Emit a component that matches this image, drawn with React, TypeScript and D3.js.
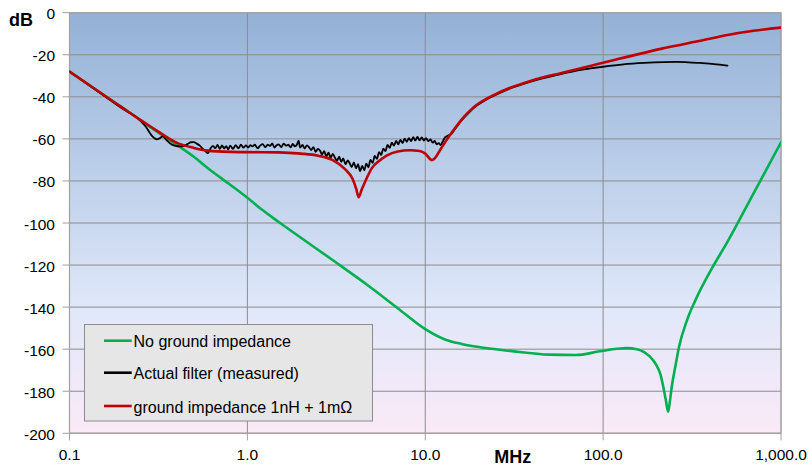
import React from "react";
import * as d3 from "d3";

// ---- data ----
const xTickValues = [0.1, 1, 10, 100, 1000];
const xTickLabels = ["0.1", "1.0", "10.0", "100.0", "1,000.0"];
const yTickValues = [0, -20, -40, -60, -80, -100, -120, -140, -160, -180, -200];

const greenFreq = [0.1, 0.15, 0.2, 0.25, 0.3, 0.4, 0.5, 0.6, 0.8, 1.0, 1.2, 1.5, 2, 3, 5, 7, 10, 13, 16, 20, 30, 50, 70, 96, 120, 136, 155, 170, 190, 200, 210, 218, 225, 232, 238, 243, 255, 267, 296, 330, 400, 500, 700, 1000];
const greenDb = [-28, -38.2, -45.4, -51, -55.8, -62.8, -68.5, -74, -81.8, -88, -93.5, -99.5, -107, -117.5, -131, -140.5, -150.5, -155.5, -157.5, -159, -160.8, -162.6, -162.8, -161, -159.8, -159.5, -160, -161.4, -165, -167.8, -172, -178, -184, -189.7, -184, -178, -168, -159, -146.3, -136.8, -123, -109, -86, -61.6];

const redFreq = [0.1, 0.15, 0.2, 0.25, 0.3, 0.35, 0.4, 0.5, 0.6, 0.8, 1.0, 1.5, 2.0, 2.5, 3.0, 3.5, 3.9, 4.1, 4.22, 4.4, 4.7, 5.0, 5.5, 6.1, 7.0, 8.2, 9.3, 10.0, 10.9, 11.5, 12.1, 13, 14, 15, 16, 17.5, 19.4, 22, 24.2, 30, 37.5, 45, 57, 100, 211, 367, 500, 700, 1000];
const redDb = [-28, -38.2, -45.4, -51, -55.3, -59, -61.8, -64.3, -65.6, -66.2, -66.3, -66.4, -67, -68, -70, -74, -79, -84, -87.7, -84, -78.5, -74, -70.5, -67.8, -66, -65.4, -65.8, -67, -70.1, -68.5, -65.4, -61.3, -57.3, -53.9, -50.8, -47.3, -43.9, -41.0, -39.2, -35.7, -32.9, -30.9, -28.9, -23.8, -17.2, -13, -10.6, -8.6, -7.1];

const measFreq = [0.1, 0.15, 0.2, 0.25, 0.27, 0.29, 0.31, 0.32, 0.335, 0.35, 0.37, 0.39, 0.42, 0.44, 0.46, 0.48,
  0.50, 0.52, 0.54, 0.56, 0.58, 0.60, 0.62, 0.64, 0.66, 0.68, 0.70, 0.72, 0.74, 0.76, 0.78, 0.80, 0.83, 0.86, 0.89, 0.92, 0.95, 0.98,
  1.01, 1.04, 1.07, 1.10, 1.14, 1.18, 1.22, 1.26, 1.30, 1.34, 1.38, 1.42, 1.46, 1.50, 1.55, 1.60, 1.65, 1.70, 1.75, 1.80, 1.85, 1.90, 1.94, 1.98,
  2.04, 2.10, 2.16, 2.22, 2.28, 2.35, 2.42, 2.49, 2.56, 2.63, 2.70, 2.78, 2.86, 2.94, 3.02, 3.10, 3.19, 3.28, 3.37, 3.46, 3.56, 3.66, 3.76, 3.86, 3.97,
  4.08, 4.19, 4.30, 4.42, 4.54, 4.66, 4.79, 4.92, 5.06, 5.20, 5.35, 5.50, 5.65, 5.81, 5.97, 6.14, 6.31, 6.49, 6.67, 6.86, 7.05, 7.25, 7.45, 7.66, 7.87,
  8.09, 8.32, 8.55, 8.79, 9.04, 9.29, 9.55, 9.82, 10.1, 10.4, 10.7, 11.0, 11.3, 11.6, 11.9, 12.2, 12.5, 12.8,
  13.3, 14, 15, 16, 17.5, 19.4, 22, 24.2, 30, 37.5, 45, 57, 70, 85, 100, 130, 170, 220, 260, 300, 350, 420, 500];
const measDb = [-28, -38.4, -45.8, -51.3, -54.5, -58.5, -60.2, -59.8, -58.8, -60.5, -62.3, -63.2, -63.6, -63.4, -62.5, -61.6,
  -61.5, -62.3, -63.2, -64.6, -65.8, -66.9, -64.6, -63.3, -64.4, -62.9, -64.8, -63.1, -64.6, -63.4, -65.0, -63.2, -64.7, -63.0, -64.5, -62.8, -64.2, -63.1,
  -64.1, -63.0, -63.6, -62.7, -64.5, -63.2, -62.5, -63.9, -62.8, -63.3, -62.2, -64.1, -63.0, -62.6, -63.9, -62.3, -63.2, -62.8, -64.0, -62.4, -63.6, -62.7, -60.8, -64.2,
  -62.9, -64.6, -63.1, -63.9, -65.3, -63.9, -66.2, -64.8, -65.6, -67.4, -65.8, -68.3, -66.5, -69.0, -67.1, -68.8, -70.4, -68.5, -70.9, -69.3, -72.1, -70.2, -71.6, -73.4, -71.2,
  -74.0, -72.0, -75.4, -72.8, -75.0, -71.8, -73.5, -70.0, -71.4, -68.1, -69.5, -66.3, -67.6, -64.6, -65.8, -62.9, -64.3, -61.8, -63.2, -61.0, -62.6, -60.5, -62.0, -59.9, -61.4,
  -59.6, -61.1, -59.2, -60.8, -59.0, -60.7, -59.3, -60.8, -59.6, -61.1, -60.2, -61.8, -61.0, -62.6, -62.0, -63.0, -61.5, -59.8,
  -58.6, -57.7, -54.3, -51.2, -47.7, -44.3, -41.4, -39.6, -36.0, -33.2, -31.3, -29.3, -27.6, -26.5, -25.7, -24.6, -23.9, -23.5, -23.4, -23.6, -23.9, -24.5, -25.2];

const seriesNames = ["No ground impedance", "Actual filter (measured)", "ground impedance 1nH + 1m\u03A9"];
const seriesColors = ["#00B050", "#000000", "#C00000"];

// ---- layout ----
const W = 812, H = 470;
const left = 69.5, right = 781, top = 12.7, bottom = 433.3;
const FONT = "'Liberation Sans', Arial, sans-serif";

export default function App() {
  const x = d3.scaleLog().domain([0.1, 1000]).range([left, right]);
  const y = d3.scaleLinear().domain([-200, 0]).range([bottom, top]);

  const mk = (fs: number[], ds: number[], curve: any) =>
    d3.line<number>()
      .x((_, i) => x(fs[i]))
      .y((d) => y(d))
      .curve(curve)(ds) || "";

  const greenPath = mk(greenFreq, greenDb, d3.curveMonotoneX);
  const blackPath = mk(measFreq, measDb, d3.curveMonotoneX);
  const redPath = mk(redFreq, redDb, d3.curveMonotoneX);

  const legendRows = [340.7, 372.7, 406];

  return (
    <svg width={W} height={H} style={{ position: "absolute", left: 0, top: 0 }} fontFamily={FONT}>
      <defs>
        <linearGradient id="bg" x1="0" y1="0" x2="0" y2="1">
          <stop offset="0" stopColor="#93B1D6" />
          <stop offset="0.7" stopColor="#E0E8FA" />
          <stop offset="1" stopColor="#FBE9F7" />
        </linearGradient>
        <clipPath id="clip">
          <rect x={left} y={top} width={right - left} height={bottom - top} />
        </clipPath>
      </defs>
      <rect x={0} y={0} width={W} height={H} fill="#fff" />
      <rect x={left} y={top} width={right - left} height={bottom - top} fill="url(#bg)" />

      {/* gridlines */}
      {yTickValues.map((v) => (
        <line key={"gy" + v} x1={left} x2={right} y1={y(v)} y2={y(v)} stroke="#8C8C8C" strokeWidth={1} />
      ))}
      {xTickValues.map((v) => (
        <line key={"gx" + v} x1={x(v)} x2={x(v)} y1={top} y2={bottom} stroke="#8C8C8C" strokeWidth={1} />
      ))}
      <rect x={left} y={top} width={right - left} height={bottom - top} fill="none" stroke="#A6A6A6" strokeWidth={1} />

      {/* axes */}
      <line x1={left} x2={left} y1={top} y2={bottom} stroke="#A0A0A0" strokeWidth={1.2} />
      <line x1={left} x2={right} y1={bottom} y2={bottom} stroke="#A0A0A0" strokeWidth={1.2} />
      {yTickValues.map((v) => (
        <g key={"ty" + v}>
          <line x1={left - 7} x2={left} y1={y(v)} y2={y(v)} stroke="#A0A0A0" />
          <text x={55} y={y(v) + 1} textAnchor="end" dominantBaseline="central" fontSize={15.5} fill="#000">
            {v}
          </text>
        </g>
      ))}
      {xTickValues.map((v, i) => (
        <g key={"tx" + v}>
          <line x1={x(v)} x2={x(v)} y1={bottom} y2={bottom + 7} stroke="#A0A0A0" />
          <text x={x(v)} y={460} textAnchor="middle" fontSize={15.5} fill="#000">
            {xTickLabels[i]}
          </text>
        </g>
      ))}
      <text x={9} y={25.7} fontSize={18} fontWeight="bold" fill="#000">dB</text>
      <text x={494.3} y={463} fontSize={18} fontWeight="bold" fill="#000">MHz</text>

      {/* series */}
      <g clipPath="url(#clip)" fill="none" strokeLinejoin="round" strokeLinecap="round">
        <path d={greenPath} stroke={seriesColors[0]} strokeWidth={2.6} />
        <path d={blackPath} stroke={seriesColors[1]} strokeWidth={1.8} />
        <path d={redPath} stroke={seriesColors[2]} strokeWidth={2.6} />
      </g>

      {/* legend */}
      <rect x={84.5} y={324.5} width={288} height={96.5} fill="#E6E6E6" stroke="#8C8C8C" strokeWidth={1} />
      {seriesNames.map((n, i) => (
        <g key={n}>
          <line x1={104} x2={131.7} y1={legendRows[i]} y2={legendRows[i]} stroke={seriesColors[i]} strokeWidth={2.6} />
          <text x={133.5} y={legendRows[i] + 1} dominantBaseline="central" fontSize={16} fill="#000">
            {n}
          </text>
        </g>
      ))}
    </svg>
  );
}
